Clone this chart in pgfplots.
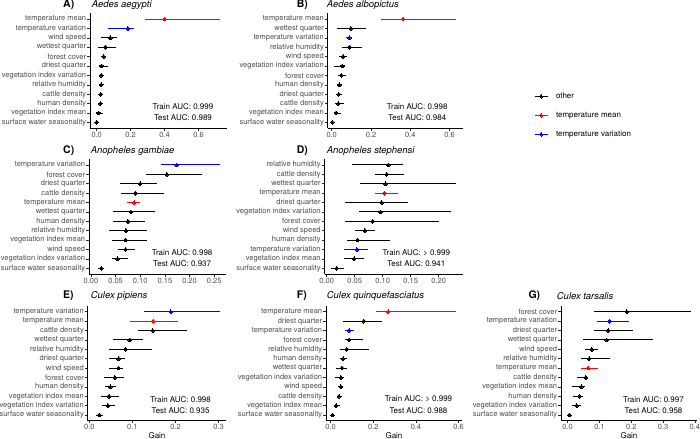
\documentclass[border=0pt]{standalone}
\usepackage{fontspec}
\setmainfont{TeX Gyre Heros}
\usepackage{pgfplots}
\pgfplotsset{compat=1.18}

\pgfplotsset{
  gain/.style={
    scale only axis, height=114.6bp, anchor=south west,
    ymin=0.4, ymax=12.6, ytick={1,...,12},
    axis x line=bottom, axis y line=left,
    axis line style={-, line width=0.5pt},
    tick align=outside, major tick length=2.75pt,
    tick style={black!85, line width=0.5pt},
    ticklabel style={font=\fontsize{7.5}{8}\selectfont, text=black!70, inner sep=1pt},
    xlabel style={font=\fontsize{8}{9}\selectfont, at={(axis description cs:0.5,0)}, anchor=center, yshift=-15bp},
    clip=false,
    /pgf/number format/fixed, /pgf/number format/fixed zerofill,
    /pgf/number format/precision=1, /pgf/number format/assume math mode=true,
  },
}
\tikzset{auc/.style={font=\fontsize{8}{9}\selectfont, inner sep=0pt}}
% one group of point ranges: colour, rows "r m lo hi"
\newcommand\gp[2]{\addplot[#1, only marks, mark=*, mark size=1.9pt,
  mark options={fill=#1, draw=#1, line width=0pt},
  error bars/.cd, x dir=both, x explicit, error mark=none,
  error bar style={#1, line width=0.9pt}]
  table[row sep=\\, x=m, y=r,
    x error plus expr=\thisrow{hi}-\thisrow{m},
    x error minus expr=\thisrow{m}-\thisrow{lo}] {r m lo hi\\ #2};}
\newcommand\tag[3]{\node[anchor=west, inner sep=0pt, font=\bfseries\fontsize{10.5}{12}\selectfont] at (#1bp,#2bp) {#3};}
\newcommand\ttl[3]{\node[anchor=west, inner sep=0pt, font=\itshape\fontsize{9.5}{11}\selectfont] at (#1bp,#2bp) {#3};}

\begin{document}
\begin{tikzpicture}
\useasboundingbox (0,0) rectangle (700bp,439bp);

% ---------- A
\begin{axis}[gain, at={(90bp,311bp)}, width=136.7bp,
  xmin=-0.0394, xmax=0.765, xtick={0,0.2,0.4,0.6},
  yticklabels={surface water seasonality, vegetation index mean, human density, cattle density, relative humidity, vegetation index variation, driest quarter, forest cover, wettest quarter, wind speed, temperature variation, temperature mean}]
\gp{black}{10 0.080 0.024 0.120\\ 9 0.051 0.008 0.114\\ 8 0.041 0.033 0.053\\ 7 0.029 0.018 0.067\\ 6 0.027 0.014 0.043\\ 5 0.027 0.016 0.045\\ 4 0.024 0.014 0.039\\ 3 0.022 0.016 0.031\\ 2 0.012 0.002 0.037\\ 1 0.000 -0.006 0.006\\}
\gp{red}{12 0.400 0.286 0.725\\}
\gp{blue}{11 0.184 0.067 0.218\\}
\node[auc] at (rel axis cs:0.68,0.187) {Train AUC: 0.999};
\node[auc] at (rel axis cs:0.68,0.087) {Test AUC: 0.989};
\end{axis}

% ---------- B
\begin{axis}[gain, at={(327.7bp,311bp)}, width=135.7bp,
  xmin=-0.0203, xmax=0.670, xtick={0,0.2,0.4,0.6},
  yticklabels={surface water seasonality, vegetation index mean, cattle density, driest quarter, human density, forest cover, vegetation index variation, wind speed, relative humidity, temperature variation, wettest quarter, temperature mean},
  legend style={at={(axis description cs:1.52,0.11)}, anchor=west, draw=none, fill=none,
    inner sep=0pt, font=\fontsize{8}{9}\selectfont, row sep=8pt, column sep=6pt},
  legend cell align=left,
  legend image code/.code={\draw[mark repeat=2, mark phase=2, #1] plot coordinates {(0bp,0bp) (6.5bp,0bp) (13bp,0bp)};}]
\addlegendimage{black, line width=0.9pt, mark=*, mark size=1.6pt, mark options={line width=0pt}}
\addlegendentry{other}
\addlegendimage{red, line width=0.9pt, mark=*, mark size=1.6pt, mark options={line width=0pt}}
\addlegendentry{temperature mean}
\addlegendimage{blue, line width=0.9pt, mark=*, mark size=1.6pt, mark options={line width=0pt}}
\addlegendentry{temperature variation}
\gp{black}{11 0.098 0.029 0.173\\ 9 0.090 0.054 0.156\\ 8 0.058 0.037 0.078\\ 7 0.054 0.014 0.068\\ 6 0.049 0.034 0.071\\ 5 0.039 0.029 0.049\\ 4 0.036 0.022 0.054\\ 3 0.034 0.019 0.061\\ 2 0.022 0.012 0.046\\ 1 0.003 0.000 0.007\\}
\gp{red}{12 0.363 0.249 0.630\\}
\gp{blue}{10 0.090 0.071 0.102\\}
\node[auc] at (rel axis cs:0.66,0.187) {Train AUC: 0.998};
\node[auc] at (rel axis cs:0.66,0.087) {Test AUC: 0.984};
\end{axis}

% ---------- C
\begin{axis}[gain, at={(89bp,165.1bp)}, width=137bp,
  xmin=-0.004, xmax=0.274, xtick={0,0.05,...,0.25},
  /pgf/number format/precision=2,
  yticklabels={surface water seasonality, vegetation index variation, wind speed, vegetation index mean, relative humidity, human density, wettest quarter, temperature mean, cattle density, driest quarter, forest cover, temperature variation}]
\gp{black}{11 0.154 0.111 0.226\\ 10 0.100 0.059 0.133\\ 9 0.090 0.061 0.148\\ 7 0.081 0.045 0.129\\ 6 0.075 0.045 0.110\\ 5 0.071 0.037 0.113\\ 4 0.070 0.043 0.113\\ 3 0.070 0.055 0.089\\ 2 0.054 0.042 0.075\\ 1 0.021 0.014 0.027\\}
\gp{red}{8 0.088 0.073 0.100\\}
\gp{blue}{12 0.174 0.142 0.262\\}
\node[auc] at (rel axis cs:0.68,0.187) {Train AUC: 0.998};
\node[auc] at (rel axis cs:0.68,0.087) {Test AUC: 0.937};
\end{axis}

% ---------- D
\begin{axis}[gain, at={(324.5bp,165.1bp)}, width=138bp,
  xmin=-0.004, xmax=0.2425, xtick={0,0.05,...,0.2},
  /pgf/number format/precision=2,
  yticklabels={surface water seasonality, vegetation index mean, temperature variation, human density, wind speed, forest cover, vegetation index variation, driest quarter, temperature mean, wettest quarter, cattle density, relative humidity}]
\gp{black}{12 0.110 0.046 0.137\\ 11 0.107 0.086 0.138\\ 10 0.105 0.060 0.230\\ 8 0.098 0.033 0.145\\ 7 0.096 0.058 0.222\\ 6 0.082 0.033 0.200\\ 5 0.068 0.051 0.086\\ 4 0.055 0.036 0.113\\ 2 0.049 0.031 0.067\\ 1 0.018 0.008 0.030\\}
\gp{red}{9 0.103 0.086 0.127\\}
\gp{blue}{3 0.054 0.030 0.074\\}
\node[auc] at (rel axis cs:0.665,0.187) {Train AUC: > 0.999};
\node[auc] at (rel axis cs:0.665,0.087) {Test AUC: 0.941};
\end{axis}

% ---------- E
\begin{axis}[gain, at={(87.7bp,18.3bp)}, width=138.6bp,
  xmin=-0.0037, xmax=0.318, xtick={0,0.1,0.2,0.3}, xlabel={Gain},
  yticklabels={surface water seasonality, vegetation index variation, vegetation index mean, human density, forest cover, wind speed, driest quarter, relative humidity, wettest quarter, cattle density, temperature mean, temperature variation}]
\gp{black}{10 0.147 0.114 0.226\\ 9 0.094 0.054 0.125\\ 8 0.084 0.045 0.145\\ 7 0.068 0.045 0.084\\ 6 0.068 0.046 0.079\\ 5 0.059 0.035 0.080\\ 4 0.049 0.037 0.062\\ 3 0.046 0.027 0.068\\ 2 0.043 0.029 0.060\\ 1 0.023 0.015 0.032\\}
\gp{red}{11 0.148 0.094 0.205\\}
\gp{blue}{12 0.189 0.127 0.303\\}
\node[auc] at (rel axis cs:0.67,0.187) {Train AUC: 0.998};
\node[auc] at (rel axis cs:0.67,0.087) {Test AUC: 0.935};
\end{axis}

% ---------- F
\begin{axis}[gain, at={(326bp,18.3bp)}, width=136bp,
  xmin=-0.022, xmax=0.616, xtick={0,0.2,0.4,0.6}, xlabel={Gain},
  yticklabels={surface water seasonality, vegetation index mean, cattle density, wind speed, vegetation index variation, wettest quarter, human density, relative humidity, forest cover, temperature variation, driest quarter, temperature mean}]
\gp{black}{11 0.156 0.059 0.239\\ 9 0.086 0.069 0.150\\ 8 0.075 0.044 0.181\\ 7 0.059 0.042 0.075\\ 6 0.053 0.025 0.078\\ 5 0.048 0.020 0.063\\ 4 0.048 0.036 0.059\\ 3 0.039 0.028 0.052\\ 2 0.025 0.014 0.044\\ 1 0.009 0.005 0.014\\}
\gp{red}{12 0.270 0.212 0.587\\}
\gp{blue}{10 0.087 0.069 0.109\\}
\node[auc] at (rel axis cs:0.68,0.187) {Train AUC: > 0.999};
\node[auc] at (rel axis cs:0.68,0.087) {Test AUC: 0.988};
\end{axis}

% ---------- G
\begin{axis}[gain, at={(561bp,18.3bp)}, width=136bp,
  xmin=-0.021, xmax=0.407, xtick={0,0.1,...,0.4}, xlabel={Gain},
  yticklabels={surface water seasonality, vegetation index variation, human density, vegetation index mean, cattle density, temperature mean, relative humidity, wind speed, wettest quarter, driest quarter, temperature variation, forest cover}]
\gp{black}{12 0.186 0.083 0.388\\ 10 0.128 0.083 0.207\\ 9 0.123 0.049 0.268\\ 8 0.076 0.055 0.095\\ 7 0.068 0.041 0.134\\ 5 0.057 0.028 0.065\\ 4 0.043 0.014 0.055\\ 3 0.037 0.016 0.049\\ 2 0.028 0.014 0.041\\ 1 0.005 0.000 0.011\\}
\gp{red}{6 0.064 0.041 0.094\\}
\gp{blue}{11 0.132 0.092 0.194\\}
\node[auc] at (rel axis cs:0.68,0.187) {Train AUC: 0.997};
\node[auc] at (rel axis cs:0.68,0.087) {Test AUC: 0.958};
\end{axis}

% ---------- panel tags and titles
\tag{63}{434}{A)}      \ttl{91.7}{434}{Aedes aegypti}
\tag{296.7}{434}{B)}   \ttl{326.7}{434}{Aedes albopictus}
\tag{63}{288.3}{C)}    \ttl{90.7}{288.3}{Anopheles gambiae}
\tag{296.7}{288.3}{D)} \ttl{326.7}{288.3}{Anopheles stephensi}
\tag{63}{143.3}{E)}    \ttl{90.7}{143.3}{Culex pipiens}
\tag{296.7}{143.3}{F)} \ttl{326.7}{143.3}{Culex quinquefasciatus}
\tag{528.3}{143.3}{G)} \ttl{556.7}{143.3}{Culex tarsalis}
\end{tikzpicture}
\end{document}
